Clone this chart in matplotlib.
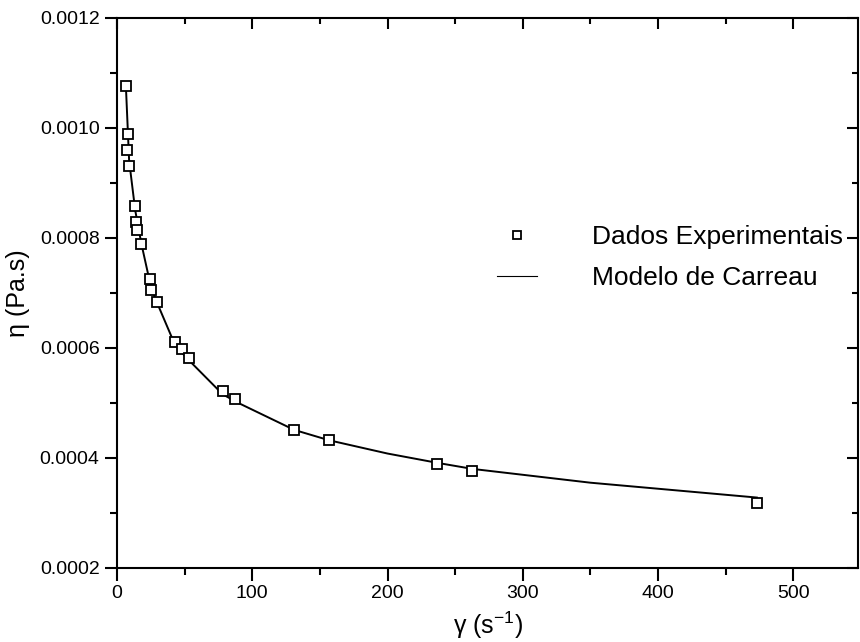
import matplotlib.pyplot as plt
from matplotlib.lines import Line2D
from matplotlib.ticker import MultipleLocator, FormatStrFormatter

# shear rate (1/s) and measured viscosity (Pa.s)
taxa = [6.7, 7.8, 7.5, 9.1, 13.3, 13.8, 15.0, 18.0, 24.4, 24.9, 29.6,
        42.9, 47.9, 53.3, 78.2, 87.3, 130.9, 156.8, 236.7, 262.8, 473.4]
visc = [0.001076, 0.000989, 0.000960, 0.000930, 0.000858, 0.000829, 0.000814,
        0.000789, 0.000726, 0.000705, 0.000684, 0.000610, 0.000598, 0.000581,
        0.000522, 0.000508, 0.000450, 0.000432, 0.000389, 0.000377, 0.000319]

# Carreau fit curve
taxa_fit = [6.7, 9.0, 13.5, 18.0, 25.0, 30.0, 43.0, 53.0, 78.0, 88.0,
            131.0, 157.0, 200.0, 237.0, 263.0, 350.0, 473.0]
visc_fit = [0.001070, 0.000940, 0.000850, 0.000790, 0.000712, 0.000680, 0.000605,
            0.000578, 0.000516, 0.000502, 0.000451, 0.000432, 0.000408, 0.000391,
            0.000380, 0.000355, 0.000328]

plt.rcParams['font.family'] = ['Liberation Sans', 'DejaVu Sans']
plt.rcParams['mathtext.default'] = 'regular'

fig = plt.figure(figsize=(8.6, 6.42), dpi=100)
ax = fig.add_axes([0.136, 0.1153, 0.862, 0.857])

ax.plot(taxa_fit, visc_fit, color='black', linewidth=1.4, zorder=2)
ax.plot(taxa, visc, linestyle='none', marker='s', markersize=7.5,
        markerfacecolor='white', markeredgecolor='black', markeredgewidth=1.3, zorder=3)

ax.set_xlim(0, 548)
ax.set_ylim(0.0002, 0.0012)

ax.xaxis.set_major_locator(MultipleLocator(100))
ax.xaxis.set_minor_locator(MultipleLocator(50))
ax.yaxis.set_major_locator(MultipleLocator(0.0002))
ax.yaxis.set_minor_locator(MultipleLocator(0.0001))
ax.yaxis.set_major_formatter(FormatStrFormatter('%.4f'))

for s in ax.spines.values():
    s.set_linewidth(1.5)

ax.tick_params(which='both', direction='out', width=1.5, labelsize=14,
               top=False, right=False)
ax.tick_params(which='major', length=9)
ax.tick_params(which='minor', length=5)

# inward ticks on the top and right edges
sec_x = ax.secondary_xaxis('top')
sec_x.xaxis.set_major_locator(MultipleLocator(100))
sec_x.xaxis.set_minor_locator(MultipleLocator(50))
sec_x.tick_params(which='both', direction='in', width=1.5, labeltop=False)
sec_x.tick_params(which='major', length=8)
sec_x.tick_params(which='minor', length=4)
sec_x.spines['top'].set_visible(False)
sec_y = ax.secondary_yaxis('right')
sec_y.yaxis.set_major_locator(MultipleLocator(0.0002))
sec_y.yaxis.set_minor_locator(MultipleLocator(0.0001))
sec_y.tick_params(which='both', direction='in', width=1.5, labelright=False)
sec_y.tick_params(which='major', length=8)
sec_y.tick_params(which='minor', length=4)
sec_y.spines['right'].set_visible(False)

ax.set_xlabel('γ (s$^{-1}$)', fontsize=18, labelpad=5)
ax.set_ylabel('η (Pa.s)', fontsize=18, labelpad=7)

handles = [Line2D([], [], linestyle='none', marker='s', markersize=6,
                  markerfacecolor='white', markeredgecolor='black', markeredgewidth=1.3),
           Line2D([], [], color='black', linewidth=0.8)]
ax.legend(handles, ['Dados Experimentais', 'Modelo de Carreau'],
          loc='upper left', bbox_to_anchor=(0.481, 0.667), frameon=False,
          fontsize=19, handlelength=1.5, handletextpad=2.1, labelspacing=0.65)

fig.savefig('out.png', dpi=100)
